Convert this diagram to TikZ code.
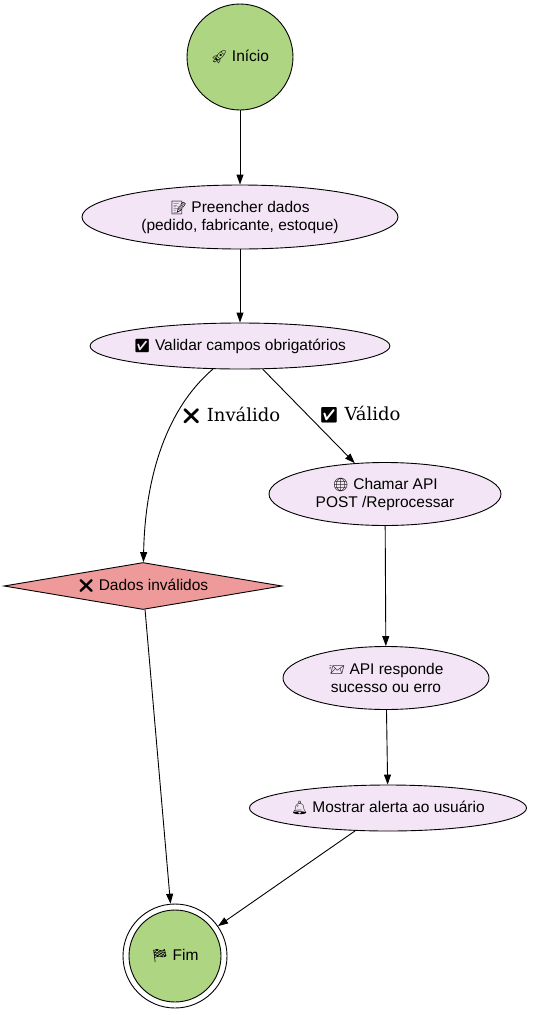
\documentclass[tikz,border=0pt]{standalone}
\usepackage{fontspec}
\setmainfont{Liberation Sans}
\newfontfamily\emofont[Scale=0.85]{Noto Emoji}
\newfontfamily\labelfont{DejaVu Serif}
\usetikzlibrary{shapes.geometric,arrows.meta}
\newcommand{\emj}[1]{{\emofont #1}}
\definecolor{startgreen}{HTML}{AED581}
\definecolor{procpurple}{HTML}{F3E5F5}
\definecolor{errred}{HTML}{EF9A9A}
\tikzset{
  base/.style={draw=black, line width=0.9pt, inner sep=0pt, align=center,
    font=\fontsize{15.5}{18}\selectfont},
  proc/.style={base, ellipse, fill=procpurple},
  startnode/.style={base, circle, fill=startgreen},
  errnode/.style={base, diamond, aspect=5.9, fill=errred},
  arr/.style={line width=0.9pt, -{Triangle[length=10pt,width=7pt]}},
  elabel/.style={font=\labelfont\fontsize{18}{21}\selectfont, inner sep=0pt}
}
\begin{document}
\begin{tikzpicture}[x=1pt,y=-1pt]
\useasboundingbox (0,0) rectangle (533,1015);
\node[startnode, minimum size=106pt] (ini) at (240,57) {\emj{🚀} Início};
\node[proc, minimum width=316pt, minimum height=64pt] (pre) at (240,217)
  {\emj{📝} Preencher dados\\(pedido, fabricante, estoque)};
\node[proc, minimum width=295pt, minimum height=46pt] (val) at (240,346)
  {\emj{✅} Validar campos obrigatórios};
\node[proc, minimum width=232pt, minimum height=63pt] (cha) at (385,494)
  {\emj{🌐} Chamar API\\POST /Reprocessar};
\node[errnode, minimum width=278pt, minimum height=47pt] (dad) at (143,586)
  {\emj{❌} Dados inválidos};
\node[proc, minimum width=206pt, minimum height=63pt] (api) at (386,678)
  {\emj{📨} API responde\\sucesso ou erro};
\node[proc, minimum width=277pt, minimum height=46pt] (mos) at (388,808)
  {\emj{🔔} Mostrar alerta ao usuário};
\node[draw=black, line width=0.9pt, circle, minimum size=104pt, inner sep=0pt] (fim) at (175,956) {};
\node[startnode, minimum size=92pt] (fimin) at (fim.center) {\emj{🏁} Fim};
\draw[arr] (ini) -- (pre);
\draw[arr] (pre) -- (val);
\draw[arr] (val) .. controls (165,410) and (145,480) .. (dad);
\draw[arr] (val) -- (cha);
\draw[arr] (cha) -- (api);
\draw[arr] (api) -- (mos);
\draw[arr] (mos) -- (fim);
\draw[arr] (dad) -- (fim);
\node[elabel] (linv) at (231,415) {\emj{❌} Inválido};
\node[elabel] (lval) at (360,415) {\emj{✅} Válido};
\end{tikzpicture}
\end{document}
